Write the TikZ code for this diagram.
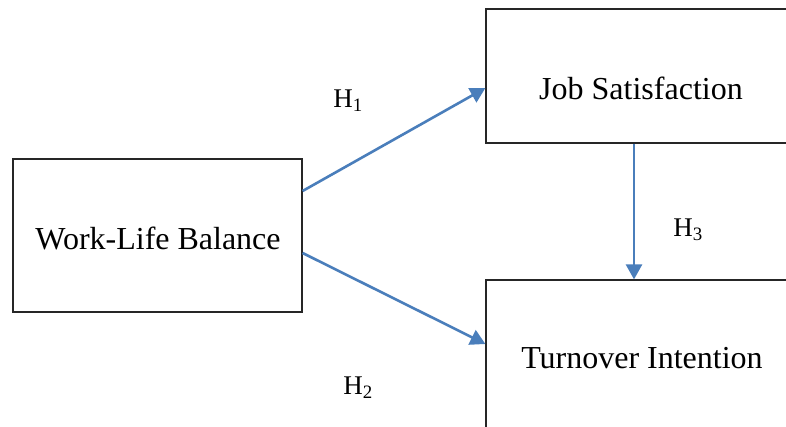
\documentclass[tikz,border=0pt]{standalone}
\usepackage{fontspec}
\setmainfont{Liberation Serif}
\usetikzlibrary{arrows.meta}
\definecolor{pathblue}{HTML}{4A7EBB}
\tikzset{
	varbox/.style={draw=black!85, line width=1.2pt, minimum width=#1, inner sep=0pt},
	varname/.style={font=\fontsize{32}{38}\selectfont, inner sep=0pt},
	hyp/.style={font=\fontsize{27}{32}\selectfont, inner sep=0pt},
	path/.style={draw=pathblue, line width=2.6pt, -{Triangle[length=15pt,width=16pt]}}
}
\begin{document}
\begin{tikzpicture}[x=1pt, y=-1pt]
	\useasboundingbox (0,0) rectangle (786,426);
	\clip (0,0) rectangle (786,426);
	\node [varbox=289pt, minimum height=153pt] (wlb) at (157.5,235.5) {};
	\node [varbox=312pt, minimum height=134pt] (js) at (642,76) {};
	\node [varbox=312pt, minimum height=156pt] (ti) at (642,358) {};
	\node [varname] (wlb-text) at (158,238) {Work-Life Balance};
	\node [varname] (js-text) at (641,88) {Job Satisfaction};
	\node [varname] (ti-text) at (642,358) {Turnover Intention};
	\node [hyp] (h1) at (348,101) {H\textsubscript{1}};
	\node [hyp] (h2) at (358,388) {H\textsubscript{2}};
	\node [hyp] (h3) at (688,230) {H\textsubscript{3}};
	\draw [path] ([yshift=44.5pt]wlb.east) -- ([yshift=-12pt]js.west);
	\draw [path] ([yshift=-17.5pt]wlb.east) -- ([yshift=14pt]ti.west);
	\draw [path] ([xshift=-8pt]js.south) -- ([xshift=-8pt]ti.north);
\end{tikzpicture}
\end{document}
